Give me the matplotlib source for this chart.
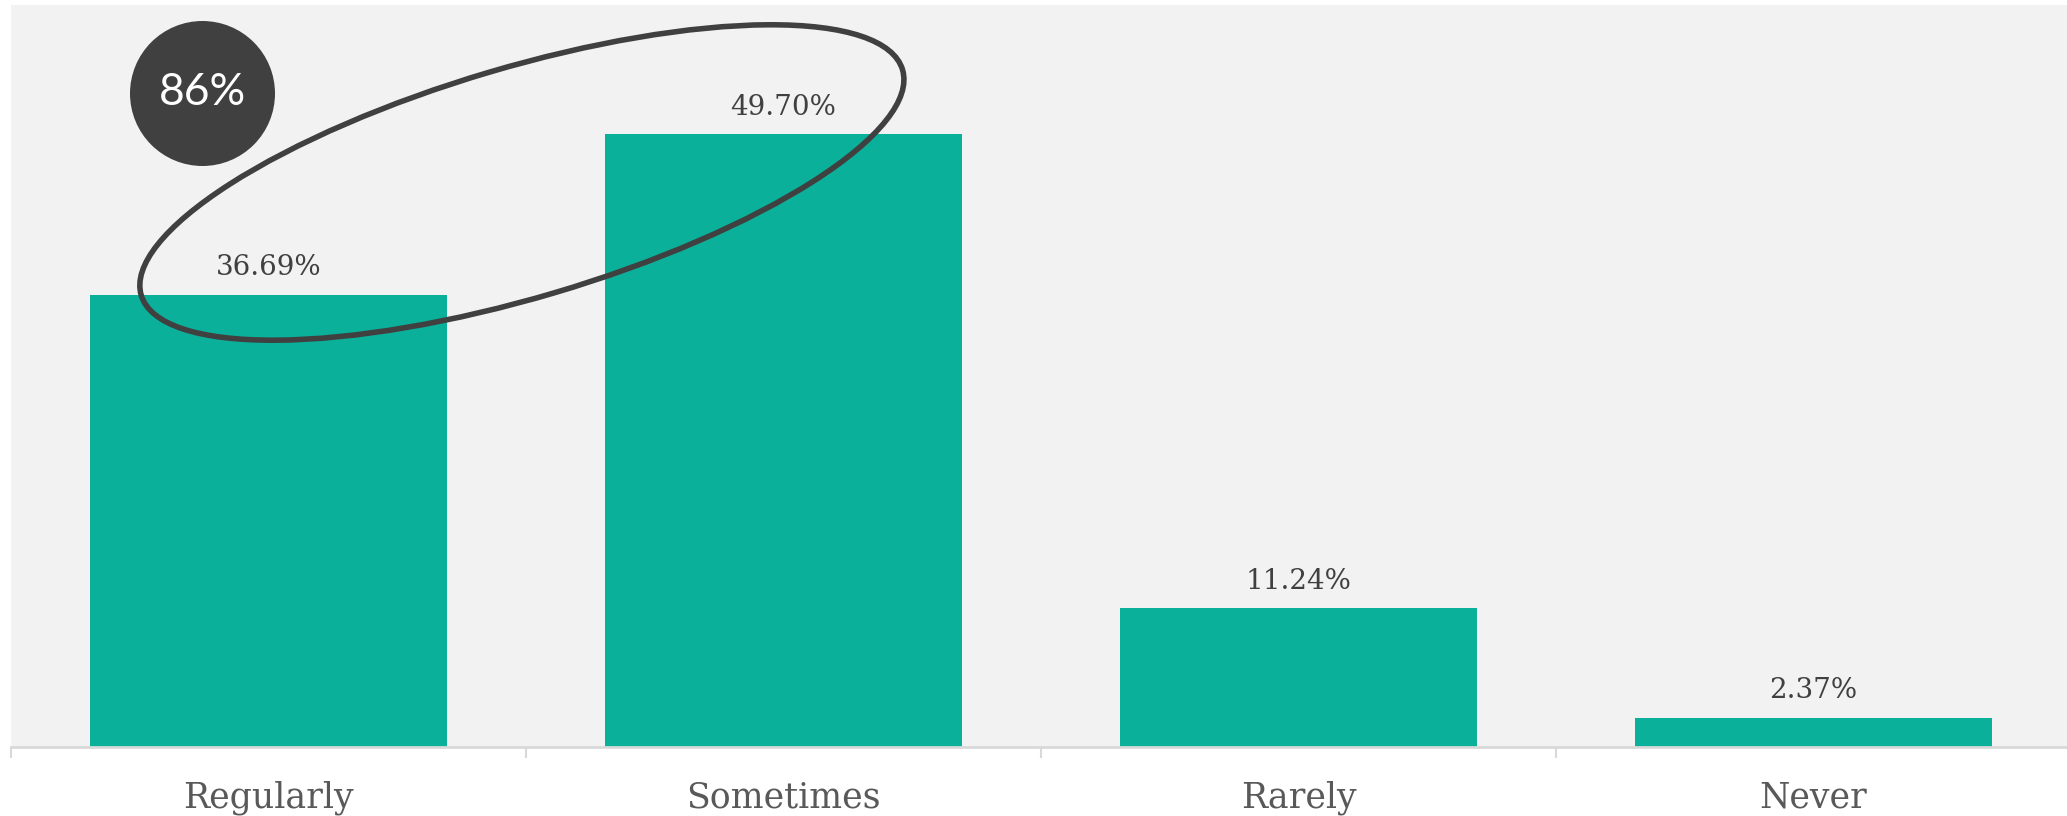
import matplotlib
matplotlib.use("Agg")
import matplotlib.pyplot as plt
from matplotlib.patches import Ellipse
from matplotlib.transforms import IdentityTransform

# data
categories = ["Regularly", "Sometimes", "Rarely", "Never"]
shares = [36.69, 49.70, 11.24, 2.37]
highlight_total = "86%"

bar_color = "#0bb09a"
bg_color = "#f2f2f2"
dark = "#404040"

fig = plt.figure(figsize=(20.67, 8.16), dpi=100)
# the plot area runs a few pixels past the right edge of the image
ax = fig.add_axes([11 / 2067, 69 / 816, 2060 / 2067, 742 / 816])
ax.set_facecolor(bg_color)

x = range(len(categories))
ax.bar(x, shares, width=0.695, color=bar_color, zorder=2)

for xi, v in zip(x, shares):
    ax.annotate(f"{v:.2f}%", (xi, v), xytext=(0, 14), textcoords="offset points",
                ha="center", va="baseline", fontsize=20, color=dark,
                family="DejaVu Serif")

ax.set_xlim(-0.5, 3.5)
ax.set_ylim(0, 60.2)
ax.set_yticks([])
ax.set_xticks(list(x))
ax.set_xticklabels(categories, family="DejaVu Serif", fontsize=25, color="#595959")
ax.set_xticks([-0.5, 0.5, 1.5, 2.5, 3.5], minor=True)
ax.tick_params(axis="x", which="major", length=0, pad=24)
ax.tick_params(axis="x", which="minor", length=8, width=1.5, color="#d9d9d9")
for side in ["top", "left", "right"]:
    ax.spines[side].set_visible(False)
ax.spines["bottom"].set_color("#d9d9d9")
ax.spines["bottom"].set_linewidth(2)

# highlight ellipse around the first two bars (size in pixels)
cx, cy = ax.transData.transform((0.492, 45.8))
ring = Ellipse((cx, cy), width=794, height=230, angle=16.5, fill=False,
               edgecolor=dark, linewidth=4, transform=IdentityTransform(), zorder=5)
fig.patches.append(ring)

# badge with the combined share
ax.scatter([-0.129], [53.1], s=10900, color=dark, zorder=6, clip_on=False, linewidths=0)
ax.text(-0.129, 53.1, highlight_total, ha="center", va="center", fontsize=32,
        color="white", family="Lato", zorder=7)

fig.savefig("out.png", dpi=100, facecolor="white")
